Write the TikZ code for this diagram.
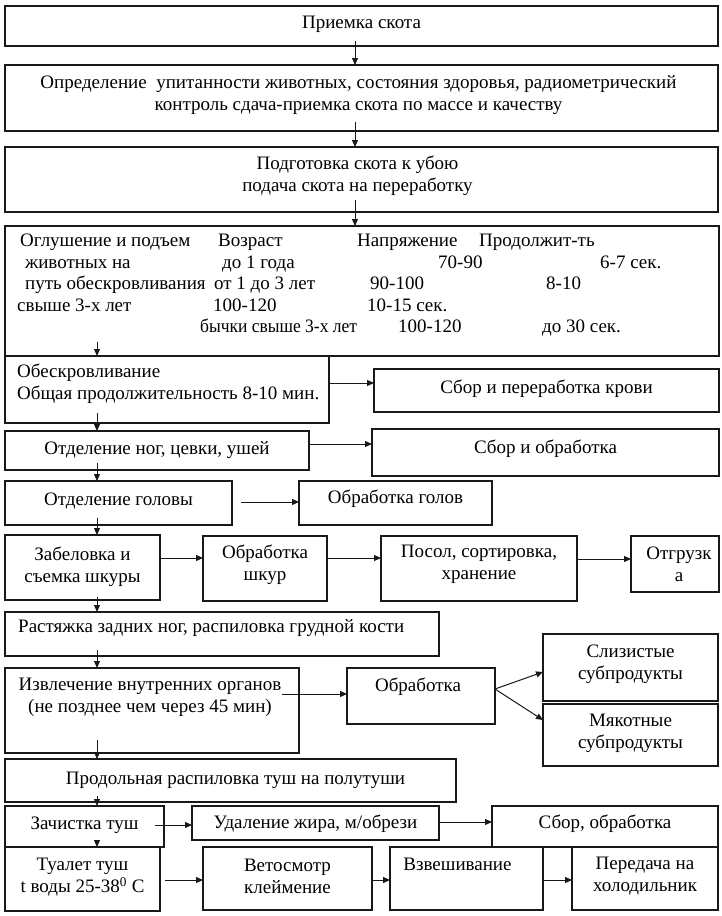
\documentclass[tikz,border=0pt]{standalone}
\usepackage{fontspec}
\setmainfont{Liberation Serif}
\usetikzlibrary{arrows.meta,calc}
\newcommand\fs{\fontsize{19}{22}\selectfont}
\tikzset{
  box/.style={draw=black!90, line width=1.1pt, inner sep=0pt, outer sep=0pt},
  txt/.style={inner sep=0pt, align=center, font=\fs},
  lt/.style={inner sep=0pt, anchor=base west, font=\fs},
  arr/.style={draw=black!90, line width=1pt, -{Triangle[length=7pt,width=6pt]}},
}
\newcommand\myrect[5]{%
  \node[box, minimum width={(#4-#2)*1pt}, minimum height={(#5-#3)*1pt}] (#1) at ({(#2+#4)/2},{(#3+#5)/2}) {};}
\newcommand\mybox[7][]{%
  \myrect{#2}{#3}{#4}{#5}{#6}%
  \node[txt,#1] (#2-t) at (#2.center) {#7};}
\begin{document}
\begin{tikzpicture}[x=1pt,y=-1pt]
\fill[white] (0,0) rectangle (722,916);
\useasboundingbox (0,0) rectangle (722,916);

% main column
\mybox[yshift=1.5pt]{b1}{5}{6}{718}{46}{Приемка скота}
\mybox[yshift=3pt,xshift=-3pt]{b2}{5}{65}{718}{131}{Определение\ \ упитанности животных, состояния здоровья, радиометрический\\контроль сдача-приемка скота по массе и качеству}
\mybox[yshift=4pt,xshift=-4pt]{b3}{5}{147}{718}{212}{Подготовка скота к убою\\подача скота на переработку}
\myrect{b4}{5}{226}{719}{356}
\node[lt] (t4a) at (20,246.5) {Оглушение и подъем};
\node[lt] (t4b) at (218,246.5) {Возраст};
\node[lt] (t4c) at (357,246.5) {Напряжение};
\node[lt] (t4d) at (479,246.5) {Продолжит-ть};
\node[lt] (t4e) at (25,268) {животных на};
\node[lt] (t4f) at (222,268) {до 1 года};
\node[lt] (t4g) at (438,268) {70-90};
\node[lt] (t4h) at (600,268) {6-7 сек.};
\node[lt] (t4i) at (25,289.5) {путь обескровливания};
\node[lt] (t4j) at (214,289.5) {от 1 до 3 лет};
\node[lt] (t4k) at (370,289.5) {90-100};
\node[lt] (t4l) at (546,289.5) {8-10};
\node[lt] (t4m) at (17,311) {свыше 3-х лет};
\node[lt] (t4n) at (213,311) {100-120};
\node[lt] (t4o) at (367,311) {10-15 сек.};
\node[lt] (t4p) at (200,332.5) {\scalebox{0.92}[1]{бычки свыше 3-х лет}};
\node[lt] (t4q) at (398,332.5) {100-120};
\node[lt] (t4r) at (542,332.5) {до 30 сек.};

\myrect{b5}{5}{356}{329}{423}
\node[lt] (t5a) at (17,377) {Обескровливание};
\node[lt] (t5b) at (17,399.5) {Общая продолжительность 8-10 мин.};
\mybox[yshift=2pt]{blood}{374}{369}{719}{412}{Сбор и переработка крови}

\mybox{b6}{5}{431}{309}{470}{Отделение ног, цевки, ушей}
\mybox[yshift=4pt]{sio}{372}{429}{719}{476}{Сбор и обработка}

\mybox[yshift=2pt]{b7}{5}{481}{232}{525}{Отделение головы}
\mybox[yshift=4pt]{og}{299}{481}{492}{525}{Обработка голов}

\mybox[yshift=1pt]{b8}{5}{535}{160}{600}{Забеловка и\\съемка шкуры}
\mybox[yshift=4pt]{osh}{203}{536}{327}{601}{Обработка\\шкур}
\mybox[yshift=4pt]{posol}{381}{536}{577}{601}{Посол, сортировка,\\хранение}
\mybox[xshift=4pt]{otg}{631}{536}{719}{592}{Отгрузк\\а}

\myrect{b9}{5}{612}{439}{656}
\node[lt] (t9) at (18,632.5) {Растяжка задних ног, распиловка грудной кости};

\mybox[yshift=13pt,xshift=-2pt]{b10}{5}{668}{299}{753}{Извлечение внутренних органов\\(не позднее чем через 45 мин)}
\mybox[yshift=9pt,xshift=-3pt]{obr}{347}{668}{495}{724}{Обработка}
\mybox[yshift=3pt]{sliz}{543}{634}{718}{701}{Слизистые\\субпродукты}
\mybox[yshift=2pt]{myak}{543}{704}{718}{766}{Мякотные\\субпродукты}

\mybox[xshift=5pt]{b11}{5}{759}{456}{802}{Продольная распиловка туш на полутуши}

\mybox[yshift=1.5pt]{b12}{5}{806}{164}{847}{Зачистка туш}
\mybox[yshift=-1pt]{ud}{192}{806}{439}{840}{Удаление жира, м/обрези}
\mybox[yshift=2.5pt]{sbor}{492}{806}{718}{847}{Сбор, обработка}

\mybox[yshift=2pt]{b13}{5}{847}{160}{911}{Туалет туш\\t воды 25-38\textsuperscript{0} С}
\mybox[yshift=2pt]{vet}{203}{847}{372}{910}{Ветосмотр\\клеймение}
\myrect{vzv}{390}{847}{543}{910}
\node[txt, anchor=base] (vzv-t) at (457.5,870.5) {Взвешивание};
\mybox[yshift=2pt]{per}{572}{847}{718}{910}{Передача на\\холодильник}

% vertical arrows
\draw[arr] ($(b1.south west)+(350,-5)$) -- ($(b2.north west)+(350,0)$);
\draw[arr] ($(b2.south west)+(350,-9)$) -- ($(b3.north west)+(350,0)$);
\draw[arr] ($(b3.south west)+(350,-12)$) -- ($(b4.north west)+(350,0)$);
\draw[arr] ($(b4.south west)+(92,-14)$) -- ($(b5.north west)+(92,0)$);
\draw[arr] ($(b5.south west)+(92,-10)$) -- ($(b6.north west)+(92,0)$);
\draw[arr] ($(b6.south west)+(92,-7)$) -- ($(b7.north west)+(92,0)$);
\draw[arr] ($(b7.south west)+(92,-7)$) -- ($(b8.north west)+(92,0)$);
\draw[arr] ($(b8.south west)+(92,-3)$) -- ($(b9.north west)+(92,0)$);
\draw[arr] ($(b9.south west)+(92,-6)$) -- ($(b10.north west)+(92,0)$);
\draw[arr] ($(b10.south west)+(92,-13)$) -- ($(b11.north west)+(92,0)$);
\draw[arr] ($(b11.south west)+(92,-6)$) -- ($(b12.north west)+(92,0)$);
\draw[arr] ($(b12.south west)+(92,-7)$) -- ($(b13.north west)+(92,0)$);

% horizontal arrows
\draw[arr] ($(b5.north east)+(0,27)$) -- ($(blood.north west)+(0,14)$);
\draw[arr] ($(b6.north east)+(0,13)$) -- ($(sio.north west)+(0,15)$);
\draw[arr] ($(b7.north east)+(9,21)$) -- ($(og.north west)+(0,21)$);
\draw[arr] ($(b8.north east)+(0,23)$) -- ($(osh.north west)+(0,22)$);
\draw[arr] ($(osh.north east)+(0,22)$) -- ($(posol.north west)+(0,22)$);
\draw[arr] ($(posol.north east)+(0,23)$) -- ($(otg.north west)+(0,23)$);
\draw[arr] ($(b10.north east)+(-17,26)$) -- ($(obr.north west)+(0,26)$);
\draw[arr] ($(obr.north east)+(0,21)$) -- ($(sliz.north west)+(0,38)$);
\draw[arr] ($(obr.north east)+(0,21)$) -- ($(myak.north west)+(0,16)$);
\draw[arr] ($(b12.north east)+(-9,19)$) -- ($(ud.north west)+(0,19)$);
\draw[arr] ($(ud.north east)+(0,16)$) -- ($(sbor.north west)+(0,16)$);
\draw[arr] ($(b13.north east)+(5,33)$) -- ($(vet.north west)+(0,33)$);
\draw[arr] ($(vet.north east)+(0,33)$) -- ($(vzv.north west)+(0,33)$);
\draw[arr] ($(vzv.north east)+(0,33)$) -- ($(per.north west)+(0,33)$);
\end{tikzpicture}
\end{document}
